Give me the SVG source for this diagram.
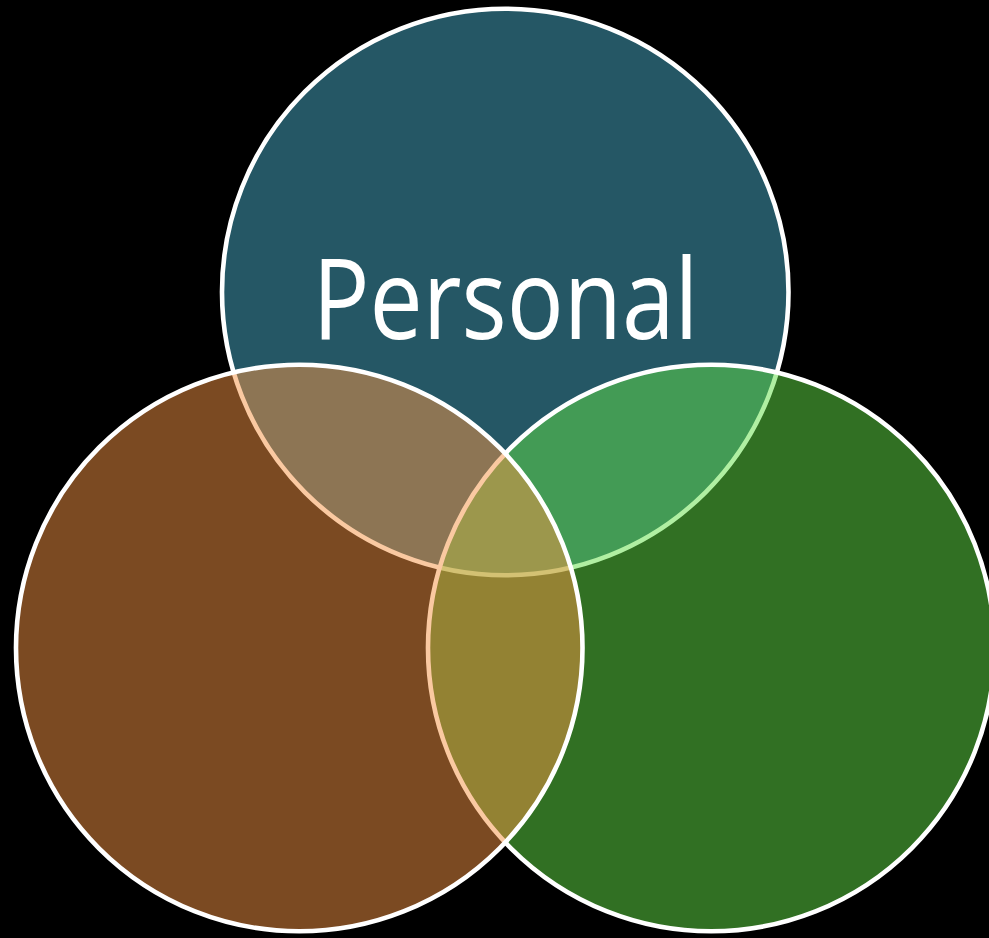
<svg xmlns="http://www.w3.org/2000/svg" width="989" height="938" viewBox="0 0 989 938">
  <style>
    .c { stroke: #ffffff; stroke-width: 4.6; fill-opacity: 0.5; }
    .lbl { font-family: "Open Sans", "Noto Sans", "Liberation Sans", sans-serif; font-size: 112px; fill: #ffffff; text-anchor: middle; }
  </style>
  <rect x="0" y="0" width="989" height="938" fill="#000000"/>
  <g id="personal">
    <circle class="c" cx="505.25" cy="292" r="283.25" fill="#4AAECA"/>
  </g>
  <g id="right">
    <circle class="c" cx="711.25" cy="648" r="283.25" fill="#62E046"/>
  </g>
  <g id="left">
    <circle class="c" cx="299.25" cy="648" r="283.25" fill="#F69444"/>
  </g>
  <g id="label">
    <text class="lbl" x="505.5" y="339" textLength="386" lengthAdjust="spacingAndGlyphs">Personal</text>
  </g>
  <g id="connectors"/>
</svg>
